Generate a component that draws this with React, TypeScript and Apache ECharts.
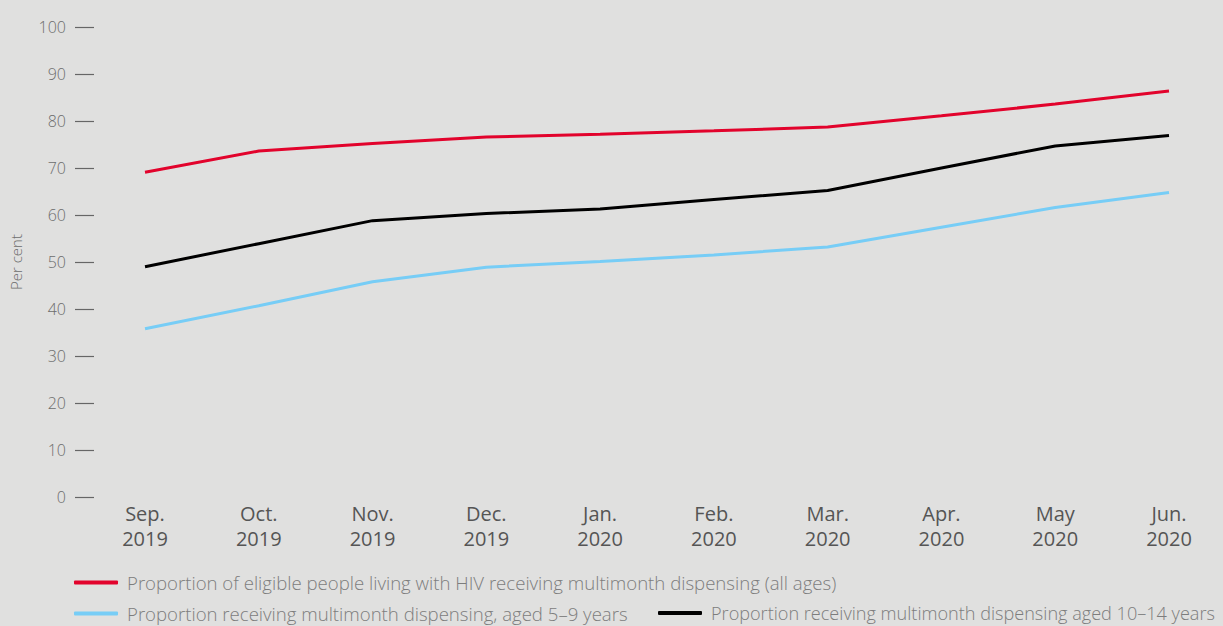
import React, { useEffect, useRef } from "react";
import * as echarts from "echarts";

const months = ["Sep.\n2019", "Oct.\n2019", "Nov.\n2019", "Dec.\n2019", "Jan.\n2020", "Feb.\n2020", "Mar.\n2020", "Apr.\n2020", "May\n2020", "Jun.\n2020"];
const allAges = [69.1, 73.6, 75.2, 76.6, 77.2, 77.9, 78.7, 81.1, 83.6, 86.4];
const aged5to9 = [35.8, 40.7, 45.8, 48.9, 50.1, 51.5, 53.2, 57.4, 61.6, 64.8];
const aged10to14 = [49.0, 53.9, 58.8, 60.3, 61.3, 63.3, 65.2, 70.0, 74.7, 76.9];
const seriesNames = [
  "Proportion of eligible people living with HIV receiving multimonth dispensing (all ages)",
  "Proportion receiving multimonth dispensing, aged 5–9 years",
  "Proportion receiving multimonth dispensing aged 10–14 years",
];

export default function App() {
  const ref = useRef<HTMLDivElement>(null);
  useEffect(() => {
    const chart = echarts.init(ref.current!, null, { renderer: "svg" });
    const font = "'Open Sans', 'Noto Sans', sans-serif";
    const legendText = {
      color: "#7d7d7d",
      fontSize: 18.6,
      fontWeight: 300,
      fontFamily: font,
      padding: [0, 0, 0, 4],
    };
    const legendBase = {
      padding: 0,
      icon: "roundRect",
      itemWidth: 44,
      itemHeight: 4,
      itemGap: 30,
      width: 900,
      textStyle: legendText,
    };
    chart.setOption({
      animation: false,
      backgroundColor: "#e0e0df",
      textStyle: { fontFamily: font },
      grid: { left: 141, right: 54, top: 27, bottom: 129, containLabel: false },
      legend: [
        { ...legendBase, data: [seriesNames[0]], left: 74, top: 573 },
        { ...legendBase, data: [seriesNames[1]], left: 74, top: 604 },
        {
          ...legendBase,
          data: [seriesNames[2]],
          left: 658,
          top: 604,
          textStyle: { ...legendText, fontSize: 18.1 },
        },
      ],
      xAxis: {
        type: "category",
        data: months,
        boundaryGap: false,
        axisLine: { show: false },
        axisTick: { show: false },
        axisLabel: {
          color: "#555",
          fontSize: 20,
          lineHeight: 25,
          fontWeight: 500,
          margin: 4,
          interval: 0,
          fontFamily: font,
        },
      },
      yAxis: {
        type: "value",
        min: 0,
        max: 100,
        interval: 10,
        offset: 51,
        name: "Per cent",
        nameLocation: "middle",
        nameRotate: 90,
        nameGap: 71,
        nameTextStyle: { color: "#6d6d6d", fontSize: 15, fontWeight: 300, fontFamily: font },
        axisLine: { show: false },
        axisTick: { show: true, length: 19, lineStyle: { color: "#666", width: 1.2 } },
        splitLine: { show: false },
        axisLabel: { color: "#6d6d6d", fontSize: 16, fontWeight: 300, margin: 28, fontFamily: font },
      },
      series: [
        {
          name: seriesNames[0],
          type: "line",
          data: allAges,
          showSymbol: false,
          color: "#e2032c",
          lineStyle: { width: 3, color: "#e2032c" },
        },
        {
          name: seriesNames[1],
          type: "line",
          data: aged5to9,
          showSymbol: false,
          color: "#77cdf6",
          lineStyle: { width: 3, color: "#77cdf6" },
        },
        {
          name: seriesNames[2],
          type: "line",
          data: aged10to14,
          showSymbol: false,
          color: "#000000",
          lineStyle: { width: 3, color: "#000000" },
        },
      ],
    });
    return () => chart.dispose();
  }, []);
  return (
    <div
      ref={ref}
      style={{ position: "fixed", left: 0, top: 0, width: 1223, height: 626 }}
    />
  );
}
